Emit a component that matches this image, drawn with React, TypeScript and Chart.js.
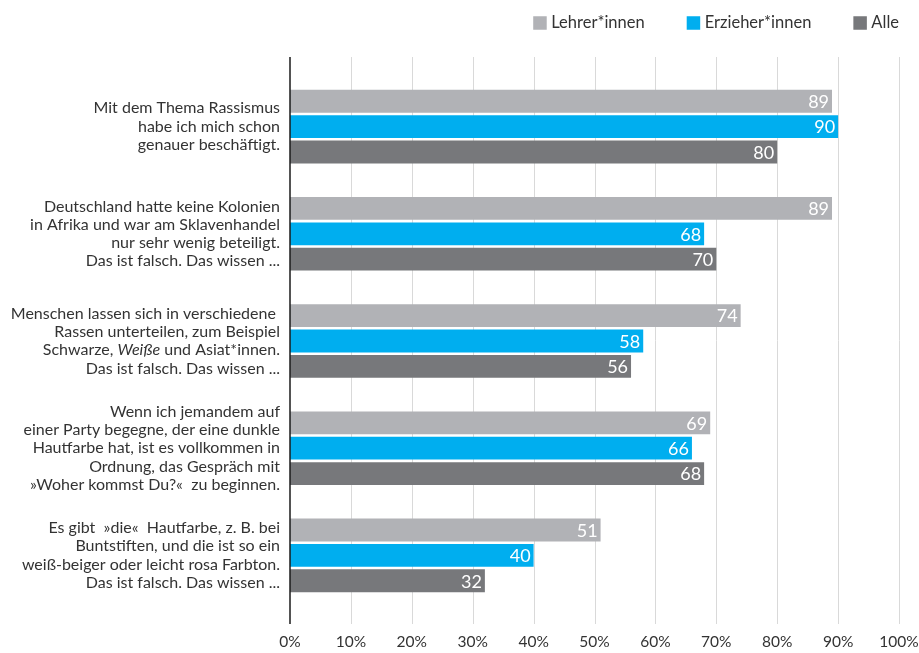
import React, { useEffect, useRef } from "react";
import { Chart, registerables } from "chart.js";

Chart.register(...registerables);

// Category labels (lines; text between _ _ is italic)
const categories: string[][] = [
  ["Mit dem Thema Rassismus", "habe ich mich schon", "genauer beschäftigt."],
  ["Deutschland hatte keine Kolonien", "in Afrika und war am Sklavenhandel", "nur sehr wenig beteiligt.", "Das ist falsch. Das wissen ..."],
  ["Menschen lassen sich in verschiedene ", "Rassen unterteilen, zum Beispiel", "Schwarze, _Weiße_ und Asiat*innen.", "Das ist falsch. Das wissen ..."],
  ["Wenn ich jemandem auf", "einer Party begegne, der eine dunkle", "Hautfarbe hat, ist es vollkommen in", "Ordnung, das Gespräch mit", "»Woher kommst Du?«  zu beginnen."],
  ["Es gibt  »die«  Hautfarbe, z. B. bei", "Buntstiften, und die ist so ein", "weiß-beiger oder leicht rosa Farbton.", "Das ist falsch. Das wissen ..."],
];

const seriesNames = ["Lehrer*innen", "Erzieher*innen", "Alle"];
const lehrer = [89, 89, 74, 69, 51];
const erzieher = [90, 68, 58, 66, 40];
const alle = [80, 70, 56, 68, 32];
const seriesColors = ["#b1b2b6", "#00aeef", "#77787b"];
const xTicks = [0, 10, 20, 30, 40, 50, 60, 70, 80, 90, 100];

const FONT = "Lato";
const TEXT = "#333333";
const LABEL_SIZE = 16;

const customPlugin = {
  id: "custom",
  beforeDatasetsDraw(chart: any) {
    const { ctx, chartArea, scales } = chart;
    const x = scales.x;
    ctx.save();
    ctx.strokeStyle = "#d9d9d9";
    ctx.lineWidth = 1;
    for (const t of xTicks) {
      if (t === 0) continue;
      const px = Math.round(x.getPixelForValue(t)) + 0.5;
      ctx.beginPath();
      ctx.moveTo(px, chartArea.top - 16);
      ctx.lineTo(px, chartArea.bottom + 15);
      ctx.stroke();
    }
    ctx.restore();
  },
  afterDatasetsDraw(chart: any) {
    const { ctx, chartArea, scales } = chart;
    const x = scales.x;
    const y = scales.y;
    ctx.save();
    // zero axis line
    ctx.strokeStyle = "#1a1a1a";
    ctx.lineWidth = 1.5;
    const zx = x.getPixelForValue(0);
    ctx.beginPath();
    ctx.moveTo(zx, chartArea.top - 16);
    ctx.lineTo(zx, chartArea.bottom + 15);
    ctx.stroke();

    // value labels
    ctx.fillStyle = "#ffffff";
    ctx.font = `18px ${FONT}`;
    ctx.textAlign = "right";
    ctx.textBaseline = "middle";
    chart.data.datasets.forEach((ds: any, di: number) => {
      const meta = chart.getDatasetMeta(di);
      meta.data.forEach((bar: any, i: number) => {
        ctx.fillText(String(ds.data[i]), bar.x - 3, bar.y + 1);
      });
    });

    // category labels
    ctx.fillStyle = TEXT;
    ctx.textBaseline = "middle";
    const lh = 18.3;
    const right = chartArea.left - 10;
    categories.forEach((lines, i) => {
      const cy = y.getPixelForValue(i);
      const startY = cy - ((lines.length - 1) * lh) / 2;
      lines.forEach((line, li) => {
        const ly = startY + li * lh;
        const segs = line.split("_");
        let total = 0;
        const widths: number[] = [];
        segs.forEach((s, si) => {
          ctx.font = `${si % 2 === 1 ? "italic " : ""}${LABEL_SIZE}px ${FONT}`;
          const w = ctx.measureText(s).width;
          widths.push(w);
          total += w;
        });
        let cx = right - total;
        ctx.textAlign = "left";
        segs.forEach((s, si) => {
          ctx.font = `${si % 2 === 1 ? "italic " : ""}${LABEL_SIZE}px ${FONT}`;
          ctx.fillText(s, cx, ly);
          cx += widths[si];
        });
      });
    });

    // legend
    ctx.font = `16.5px ${FONT}`;
    ctx.textBaseline = "middle";
    ctx.textAlign = "left";
    const box = 13.5;
    const gapBoxText = 4.5;
    const itemGap = 42;
    const legendY = 23;
    const widths = seriesNames.map((n) => ctx.measureText(n).width);
    let totalW = 0;
    widths.forEach((w, i) => {
      totalW += box + gapBoxText + w + (i < widths.length - 1 ? itemGap : 0);
    });
    let lx = chartArea.right - totalW;
    seriesNames.forEach((n, i) => {
      ctx.fillStyle = seriesColors[i];
      ctx.fillRect(lx, legendY - box / 2, box, box);
      ctx.fillStyle = TEXT;
      ctx.fillText(n, lx + box + gapBoxText, legendY);
      lx += box + gapBoxText + widths[i] + itemGap;
    });
    ctx.restore();
  },
};

export default function App() {
  const ref = useRef<HTMLCanvasElement | null>(null);
  useEffect(() => {
    if (!ref.current) return;
    const chart = new Chart(ref.current, {
      type: "bar",
      data: {
        labels: categories.map((c) => c.join(" ").replace(/_/g, "")),
        datasets: [
          { label: seriesNames[0], data: lehrer, backgroundColor: seriesColors[0] },
          { label: seriesNames[1], data: erzieher, backgroundColor: seriesColors[1] },
          { label: seriesNames[2], data: alle, backgroundColor: seriesColors[2] },
        ],
      },
      options: {
        indexAxis: "y",
        animation: false,
        responsive: false,
        maintainAspectRatio: false,
        devicePixelRatio: 1,
        categoryPercentage: 0.71,
        barPercentage: 0.9,
        layout: { padding: { left: 290, right: 20, top: 73, bottom: 0 } },
        plugins: { legend: { display: false }, tooltip: { enabled: false } },
        scales: {
          x: {
            min: 0,
            max: 100,
            grid: { display: false, drawTicks: false },
            border: { display: false },
            afterFit: (s: any) => {
              s.height = 44;
              s.paddingLeft = 0;
              s.paddingRight = 0;
            },
            afterBuildTicks: (s: any) => {
              s.ticks = xTicks.map((v) => ({ value: v }));
            },
            ticks: {
              padding: 24,
              color: TEXT,
              font: { family: FONT, size: 15.5 },
              callback: (v: any) => `${v}%`,
            },
          },
          y: { display: false },
        },
      },
      plugins: [customPlugin],
    } as any);
    return () => chart.destroy();
  }, []);
  return (
    <div style={{ position: "fixed", left: 0, top: 0, width: 919, height: 653, background: "#fff" }}>
      <canvas ref={ref} width={919} height={653} style={{ width: 919, height: 653 }} />
    </div>
  );
}
